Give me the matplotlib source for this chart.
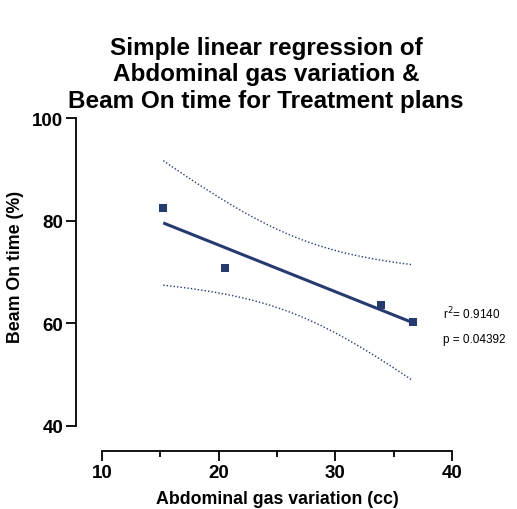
import numpy as np
import matplotlib.pyplot as plt

plt.rcParams['font.family'] = ['Liberation Sans', 'DejaVu Sans']

# data
gas_variation = np.array([15.25, 20.57, 33.94, 36.65])
beam_on_time = np.array([82.4, 70.8, 63.5, 60.3])
x_ticks = [10, 20, 30, 40]
y_ticks = [40, 60, 80, 100]
r2_label = "r$^2$= 0.9140"
p_label = "p = 0.04392"
t_crit = 4.303  # t(0.975, df=2)

navy = '#253a6e'

# simple linear regression with 95% confidence band
slope, intercept = np.polyfit(gas_variation, beam_on_time, 1)
xs = np.linspace(gas_variation.min(), gas_variation.max(), 100)
fit = slope * xs + intercept
n = len(gas_variation)
resid = beam_on_time - (slope * gas_variation + intercept)
s = np.sqrt(np.sum(resid ** 2) / (n - 2))
sxx = np.sum((gas_variation - gas_variation.mean()) ** 2)
se = s * np.sqrt(1 / n + (xs - gas_variation.mean()) ** 2 / sxx)
upper = fit + t_crit * se
lower = fit - t_crit * se

fig = plt.figure(figsize=(5.17, 5.10), dpi=100)
ax = fig.add_axes([102 / 517, 83 / 510, 350 / 517, 308 / 510])

ax.plot(xs, fit, color=navy, lw=2.2, solid_capstyle='butt')
ax.plot(xs, upper, color=navy, lw=1, ls=(0, (1, 1.5)))
ax.plot(xs, lower, color=navy, lw=1, ls=(0, (1, 1.5)))
ax.scatter(gas_variation, beam_on_time, marker='s', s=30, color=navy,
           linewidths=0, zorder=3)

ax.set_xlim(10, 40)
ax.set_ylim(40, 100)
ax.set_xticks(x_ticks)
ax.set_xticks([15, 25, 35], minor=True)
ax.set_yticks(y_ticks)

for side in ['top', 'right']:
    ax.spines[side].set_visible(False)
ax.spines['left'].set_position(('outward', 18.5))
ax.spines['bottom'].set_position(('outward', 18))
for side in ['left', 'bottom']:
    ax.spines[side].set_linewidth(1.3)

ax.tick_params(axis='both', which='major', length=7, width=1.3,
               labelsize=13.5, pad=2.5)
ax.tick_params(axis='x', which='minor', length=4, width=1.3)
for lbl in ax.get_xticklabels() + ax.get_yticklabels():
    lbl.set_fontweight('bold')

ax.set_xlabel("Abdominal gas variation (cc)", fontsize=12.8, fontweight='bold')
ax.set_ylabel("Beam On time (%)", fontsize=12.8, fontweight='bold')
ax.xaxis.set_label_coords(0.5, -0.208)
ax.yaxis.set_label_coords(-0.222, 0.52)

fig.text(266 / 517, 1 - 75 / 510,
         "Simple linear regression of\nAbdominal gas variation &\nBeam On time for Treatment plans",
         ha='center', va='center', fontsize=17.5, fontweight='bold', linespacing=1.2)

fig.text(443 / 517, 1 - 314 / 510, r2_label, fontsize=8.5, va='center')
fig.text(443 / 517, 1 - 340 / 510, p_label, fontsize=8.5, va='center')

fig.savefig('out.png', dpi=100)
